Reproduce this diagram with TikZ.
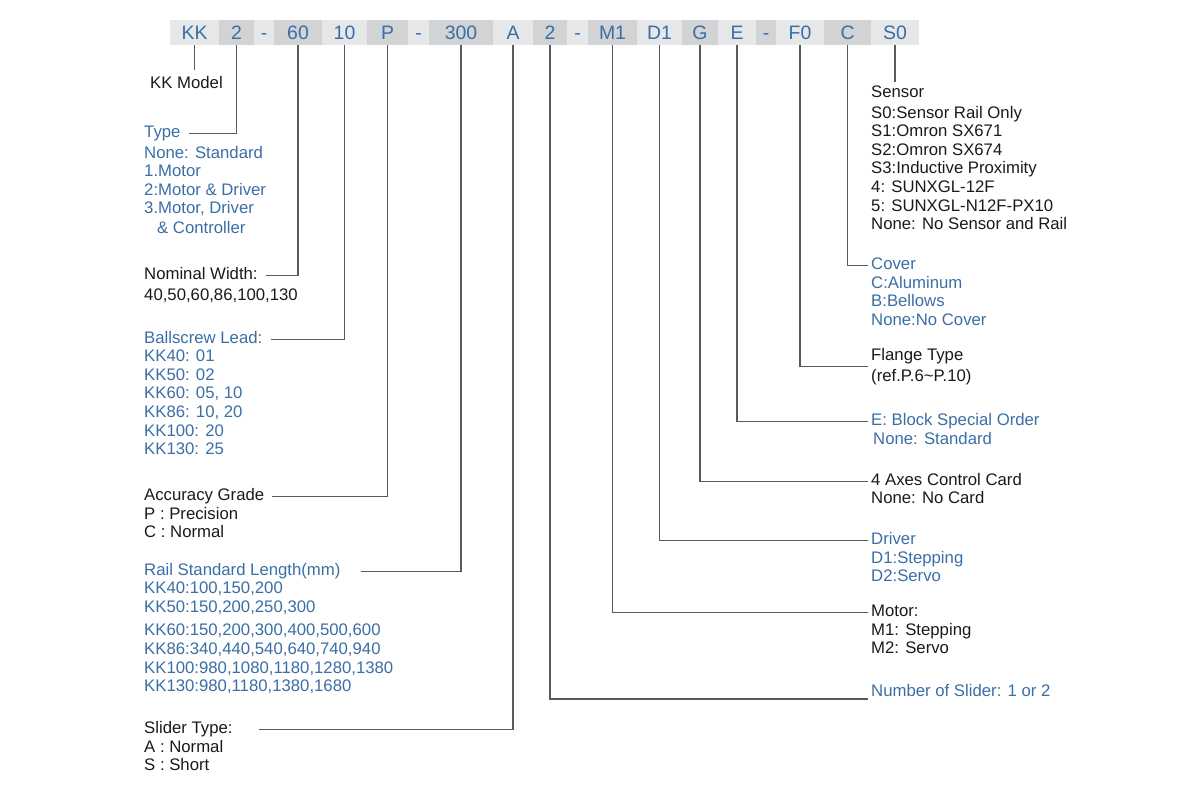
\documentclass[tikz,border=0pt]{standalone}
\usepackage{fontspec}
\setmainfont{Liberation Sans}
\usetikzlibrary{positioning}
\definecolor{codeblue}{HTML}{3A6EA5}
\definecolor{barlight}{HTML}{E6E7E8}
\definecolor{bardark}{HTML}{D1D3D4}
\definecolor{leadgray}{HTML}{5A5A5A}
\definecolor{inkblack}{HTML}{1A1A1A}
\begin{document}
\begin{tikzpicture}[x=1bp,y=-1bp]
\tikzset{
  cell/.style={minimum height=25bp,inner sep=0pt,outer sep=0pt,text=codeblue,text height=14bp,text depth=0pt,
    font=\fontsize{19.5}{20}\selectfont},
  lt/.style={cell,fill=barlight,minimum width=#1},
  dk/.style={cell,fill=bardark,minimum width=#1},
  hdr/.style={anchor=base west,inner sep=0pt,text=inkblack,text height=10pt,text depth=3pt,
    font=\fontsize{16.8}{18.7}\selectfont},
  txt/.style={anchor=north west,inner sep=0pt,align=left,text=inkblack,
    font=\fontsize{16.8}{18.7}\selectfont},
  lead/.style={draw=leadgray,line width=1.1pt},
}
\useasboundingbox (0,0) rectangle (1190,800);

% code bar
\node[lt=49bp,anchor=west] (cKK) at (170,32.5) {KK};
\node[dk=35bp,right=0pt of cKK] (cType) {2};
\node[lt=20bp,right=0pt of cType] (h1) {-};
\node[dk=48bp,right=0pt of h1] (cWidth) {60};
\node[lt=45bp,right=0pt of cWidth] (cLead) {10};
\node[dk=41bp,right=0pt of cLead] (cGrade) {P};
\node[lt=21bp,right=0pt of cGrade] (h2) {-};
\node[dk=64bp,right=0pt of h2] (cLen) {300};
\node[lt=40bp,right=0pt of cLen] (cSlide) {A};
\node[dk=34bp,right=0pt of cSlide] (cNum) {2};
\node[lt=21bp,right=0pt of cNum] (h3) {-};
\node[dk=49bp,right=0pt of h3] (cMot) {M1};
\node[lt=45bp,right=0pt of cMot] (cDrv) {D1};
\node[dk=36bp,right=0pt of cDrv] (cCard) {G};
\node[lt=38bp,right=0pt of cCard] (cBlk) {E};
\node[dk=20bp,right=0pt of cBlk] (h4) {-};
\node[lt=48bp,right=0pt of h4] (cFl) {F0};
\node[dk=47bp,right=0pt of cFl] (cCov) {C};
\node[lt=48bp,right=0pt of cCov] (cSen) {S0};

% left column
\node[hdr] (kk) at (150,89) {KK Model};
\node[hdr,text=codeblue] (type) at (144,137) {Type};
\node[txt,text=codeblue] (typeL) at (144,145.7) {None: Standard\\1.Motor\\2:Motor \& Driver\\3.Motor, Driver\\[1.3pt]\hspace*{13pt}\& Controller};
\node[hdr] (width) at (144,279) {Nominal Width:};
\node[txt] (widthL) at (144,288.7) {40,50,60,86,100,130};
\node[hdr,text=codeblue] (lead) at (144,343) {Ballscrew Lead:};
\node[txt,text=codeblue] (leadL) at (144,349.7) {KK40: 01\\KK50: 02\\KK60: 05, 10\\KK86: 10, 20\\KK100: 20\\KK130: 25};
\node[hdr] (grade) at (144,500) {Accuracy Grade};
\node[txt] (gradeL) at (144,506.7) {P : Precision\\C : Normal};
\node[hdr,text=codeblue] (len) at (144,575) {Rail Standard Length(mm)};
\node[txt,text=codeblue] (lenL) at (144,581.7) {KK40:100,150,200\\KK50:150,200,250,300\\[5pt]KK60:150,200,300,400,500,600\\KK86:340,440,540,640,740,940\\KK100:980,1080,1180,1280,1380\\KK130:980,1180,1380,1680};
\node[hdr] (slide) at (144,733) {Slider Type:};
\node[txt] (slideL) at (144,739.7) {A : Normal\\S : Short};

% right column
\node[hdr] (sen) at (871,98) {Sensor};
\node[txt] (senL) at (871,105.7) {S0:Sensor Rail Only\\S1:Omron SX671\\S2:Omron SX674\\S3:Inductive Proximity\\4: SUNXGL-12F\\5: SUNXGL-N12F-PX10\\None: No Sensor and Rail};
\node[hdr,text=codeblue] (cov) at (871,269) {Cover};
\node[txt,text=codeblue] (covL) at (871,275.7) {C:Aluminum\\B:Bellows\\None:No Cover};
\node[txt] (fl) at (871,347.7) {Flange Type\\[3.3pt](ref.P.6\textasciitilde P.10)};
\node[hdr,text=codeblue] (blk) at (871,425) {E: Block Special Order};
\node[txt,text=codeblue] (blkL) at (873,431.7) {None: Standard};
\node[hdr] (card) at (871,485) {4 Axes Control Card};
\node[txt] (cardL) at (871,490.7) {None: No Card};
\node[hdr,text=codeblue] (drv) at (871,544) {Driver};
\node[txt,text=codeblue] (drvL) at (871,550.7) {D1:Stepping\\D2:Servo};
\node[hdr] (mot) at (871,616) {Motor:};
\node[txt] (motL) at (871,622.7) {M1: Stepping\\M2: Servo};
\node[hdr,text=codeblue] (num) at (871,696) {Number of Slider: 1 or 2};

% leader lines
\draw[lead] (cKK.south) -- ([yshift=9pt]cKK.south |- kk.north);
\draw[lead] (cType.south) |- ([xshift=8pt]type.east);
\draw[lead] (cWidth.south) |- ([xshift=8pt]width.east);
\draw[lead] (cLead.south) |- ([xshift=8pt]lead.east);
\draw[lead] (cGrade.south) |- ([xshift=8pt]grade.east);
\draw[lead] (cLen.south) |- ([xshift=20pt]len.east);
\draw[lead] (cSlide.south) |- ([xshift=26pt]slide.east);
\draw[lead] (cNum.south) |- ([shift={(-3pt,-3pt)}]num.base west);
\draw[lead] (cMot.south) |- ([xshift=-3pt]mot.west);
\draw[lead] (cDrv.south) |- ([xshift=-3pt]drv.west);
\draw[lead] (cCard.south) |- ([xshift=-3pt]card.west);
\draw[lead] (cBlk.south) |- ([xshift=-3pt]blk.west);
\draw[lead] (cFl.south) |- ([xshift=-3pt]fl.west);
\draw[lead] (cCov.south) |- ([xshift=-3pt]cov.west);
\draw[lead] (cSen.south) -- ([yshift=6pt]cSen.south |- sen.north);
\end{tikzpicture}
\end{document}
